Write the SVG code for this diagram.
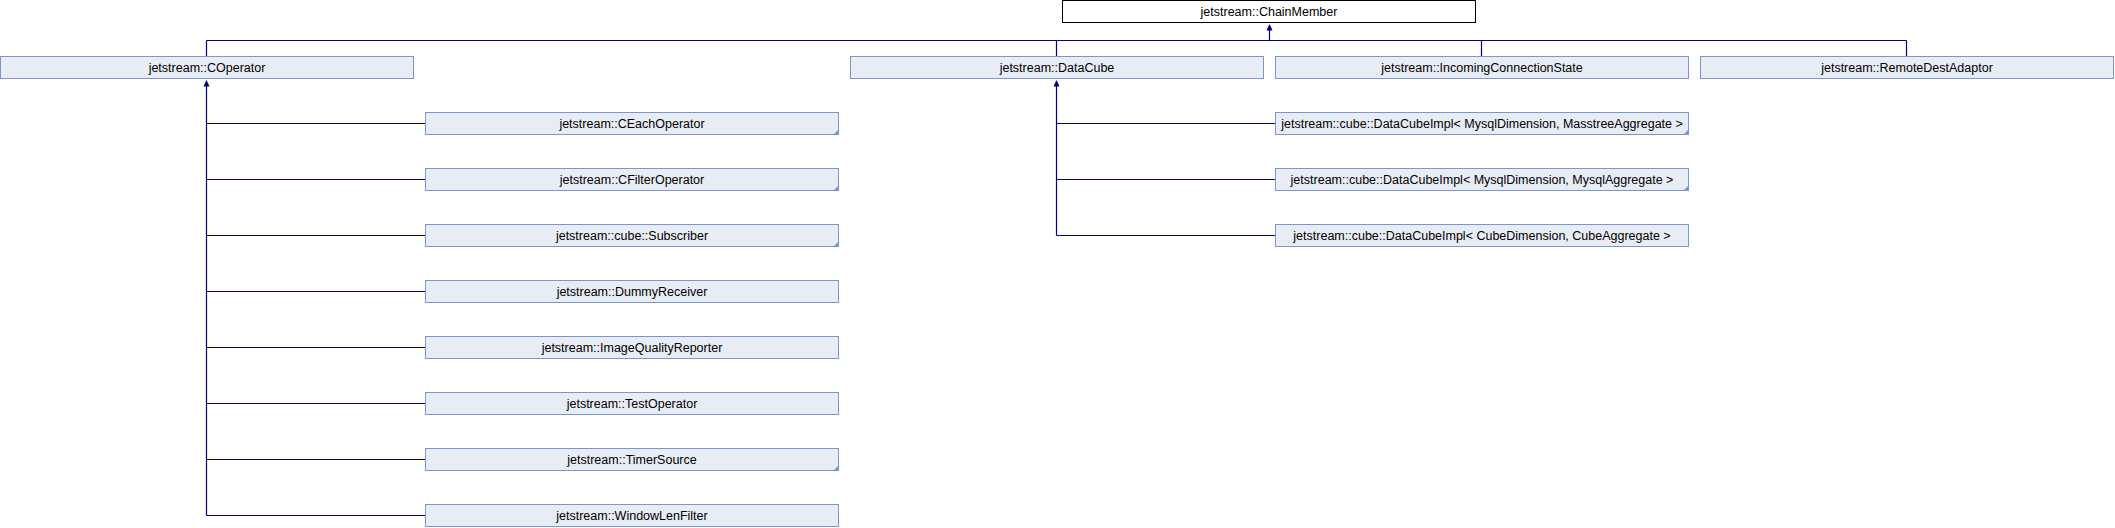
<svg xmlns="http://www.w3.org/2000/svg" width="2115" height="528" viewBox="0 0 2115 528">
<style>
.bg{fill:#ffffff}
.box{fill:#E8ECF5;stroke:#7C95CF;stroke-width:1}
.root{fill:#ffffff;stroke:#000000;stroke-width:1}
.lbl{font-family:"Liberation Sans",Arial,sans-serif;font-size:12.5px;fill:#000000;text-anchor:middle}
.ln{stroke:#000080;stroke-width:1.2;fill:none}
.ar{fill:#000080;stroke:none}
.tri{fill:#7C95CF;stroke:none}
</style>
<rect class="bg" x="0" y="0" width="2115" height="528"/>
<g id="connectors">
<polygon class="ar" points="1269.5,24 1266.5,30.5 1272.5,30.5"/>
<path class="ln" d="M1269.5,30 V40.5 M206.5,40.5 H1906.5 M206.5,40.5 V56 M1056.5,40.5 V56 M1481.5,40.5 V56 M1906.5,40.5 V56"/>
<polygon class="ar" points="206.5,80 203.5,86.5 209.5,86.5"/>
<path class="ln" d="M206.5,86 V515.5 M206.5,123.5 H425 M206.5,179.5 H425 M206.5,235.5 H425 M206.5,291.5 H425 M206.5,347.5 H425 M206.5,403.5 H425 M206.5,459.5 H425 M206.5,515.5 H425"/>
<polygon class="ar" points="1056.5,80 1053.5,86.5 1059.5,86.5"/>
<path class="ln" d="M1056.5,86 V235.5 M1056.5,123.5 H1275 M1056.5,179.5 H1275 M1056.5,235.5 H1275"/>
</g>
<g id="ChainMember"><rect class="root" x="1062.5" y="0.5" width="413" height="22"/><text class="lbl" x="1269" y="16">jetstream::ChainMember</text></g>
<g id="COperator"><rect class="box" x="0.5" y="56.5" width="413" height="22"/><text class="lbl" x="207" y="72">jetstream::COperator</text></g>
<g id="DataCube"><rect class="box" x="850.5" y="56.5" width="413" height="22"/><text class="lbl" x="1057" y="72">jetstream::DataCube</text></g>
<g id="IncomingConnectionState"><rect class="box" x="1275.5" y="56.5" width="413" height="22"/><text class="lbl" x="1482" y="72">jetstream::IncomingConnectionState</text></g>
<g id="RemoteDestAdaptor"><rect class="box" x="1700.5" y="56.5" width="413" height="22"/><text class="lbl" x="1907" y="72">jetstream::RemoteDestAdaptor</text></g>
<g id="CEachOperator"><rect class="box" x="425.5" y="112.5" width="413" height="22"/><polygon class="tri" points="839,129 839,135 833,135"/><text class="lbl" x="632" y="128">jetstream::CEachOperator</text></g>
<g id="CFilterOperator"><rect class="box" x="425.5" y="168.5" width="413" height="22"/><polygon class="tri" points="839,185 839,191 833,191"/><text class="lbl" x="632" y="184">jetstream::CFilterOperator</text></g>
<g id="Subscriber"><rect class="box" x="425.5" y="224.5" width="413" height="22"/><polygon class="tri" points="839,241 839,247 833,247"/><text class="lbl" x="632" y="240">jetstream::cube::Subscriber</text></g>
<g id="DummyReceiver"><rect class="box" x="425.5" y="280.5" width="413" height="22"/><text class="lbl" x="632" y="296">jetstream::DummyReceiver</text></g>
<g id="ImageQualityReporter"><rect class="box" x="425.5" y="336.5" width="413" height="22"/><text class="lbl" x="632" y="352">jetstream::ImageQualityReporter</text></g>
<g id="TestOperator"><rect class="box" x="425.5" y="392.5" width="413" height="22"/><text class="lbl" x="632" y="408">jetstream::TestOperator</text></g>
<g id="TimerSource"><rect class="box" x="425.5" y="448.5" width="413" height="22"/><polygon class="tri" points="839,465 839,471 833,471"/><text class="lbl" x="632" y="464">jetstream::TimerSource</text></g>
<g id="WindowLenFilter"><rect class="box" x="425.5" y="504.5" width="413" height="22"/><text class="lbl" x="632" y="520">jetstream::WindowLenFilter</text></g>
<g id="DataCubeImpl_Mysql_Masstree"><rect class="box" x="1275.5" y="112.5" width="413" height="22"/><polygon class="tri" points="1689,129 1689,135 1683,135"/><text class="lbl" x="1482" y="128">jetstream::cube::DataCubeImpl&lt; MysqlDimension, MasstreeAggregate &gt;</text></g>
<g id="DataCubeImpl_Mysql_Mysql"><rect class="box" x="1275.5" y="168.5" width="413" height="22"/><polygon class="tri" points="1689,185 1689,191 1683,191"/><text class="lbl" x="1482" y="184">jetstream::cube::DataCubeImpl&lt; MysqlDimension, MysqlAggregate &gt;</text></g>
<g id="DataCubeImpl_Cube_Cube"><rect class="box" x="1275.5" y="224.5" width="413" height="22"/><text class="lbl" x="1482" y="240">jetstream::cube::DataCubeImpl&lt; CubeDimension, CubeAggregate &gt;</text></g>
</svg>
